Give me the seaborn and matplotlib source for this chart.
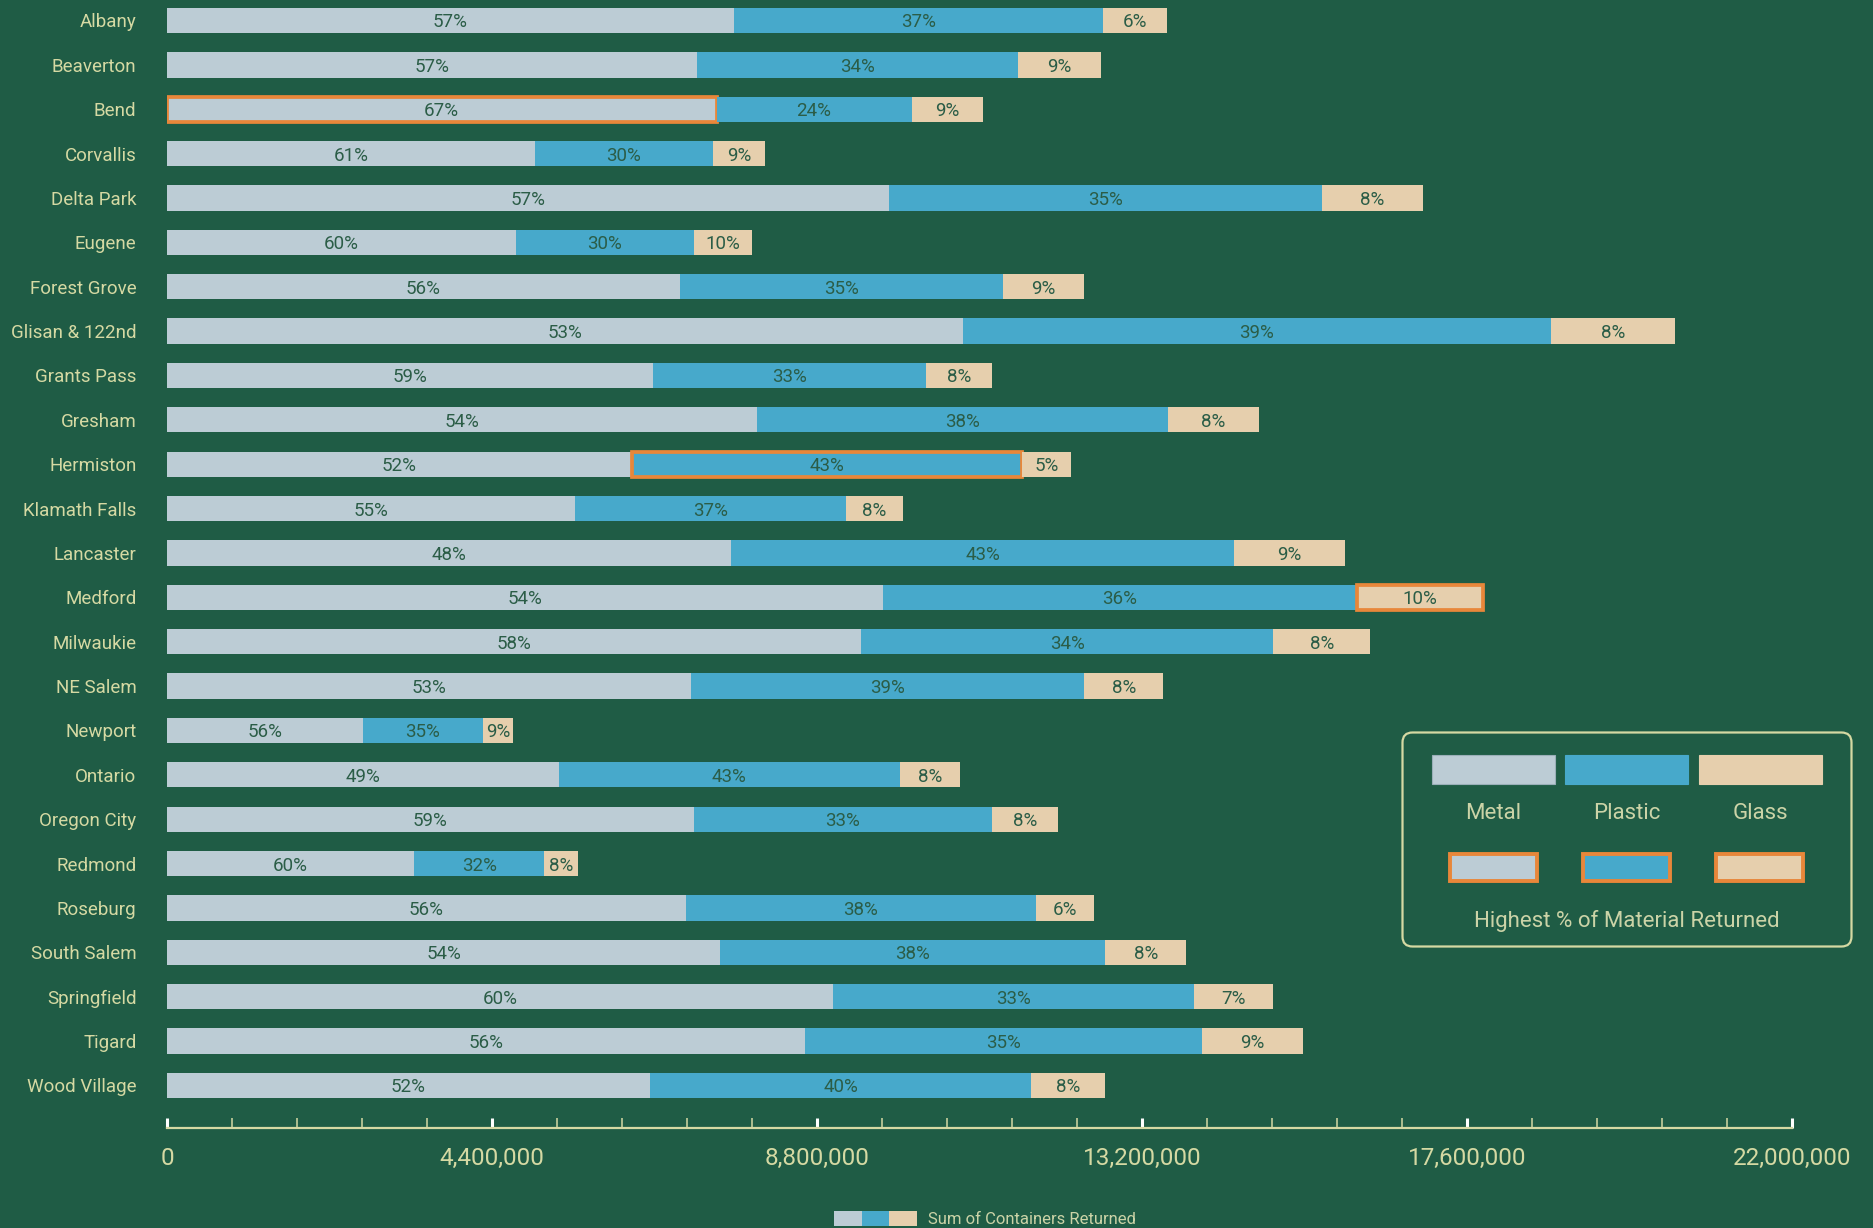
"""
Stacked horizontal bars: share of metal / plastic / glass containers returned per location.
"""

import matplotlib
matplotlib.use('Agg')
import matplotlib.pyplot as plt
from matplotlib.patches import Rectangle, FancyBboxPatch
from matplotlib.ticker import MultipleLocator, FuncFormatter
import pandas as pd
import seaborn as sns

# データ（画像から読み取り、単位: 本）
LOCATIONS = [
    'Albany', 'Beaverton', 'Bend', 'Corvallis', 'Delta Park', 'Eugene',
    'Forest Grove', 'Glisan & 122nd', 'Grants Pass', 'Gresham', 'Hermiston',
    'Klamath Falls', 'Lancaster', 'Medford', 'Milwaukie', 'NE Salem', 'Newport',
    'Ontario', 'Oregon City', 'Redmond', 'Roseburg', 'South Salem',
    'Springfield', 'Tigard', 'Wood Village',
]
METAL = [
    7670000, 7180000, 7440000, 4980000, 9770000, 4720000, 6940000, 10770000,
    6580000, 7990000, 6290000, 5530000, 7640000, 9690000, 9400000, 7100000,
    2650000, 5310000, 7130000, 3350000, 7020000, 7490000, 9010000, 8640000, 6540000,
]
PLASTIC = [
    5000000, 4340000, 2640000, 2410000, 5870000, 2410000, 4380000, 7970000,
    3700000, 5560000, 5290000, 3660000, 6810000, 6420000, 5580000, 5320000,
    1630000, 4610000, 4040000, 1760000, 4740000, 5210000, 4890000, 5370000, 5160000,
]
GLASS = [
    870000, 1130000, 970000, 710000, 1360000, 790000, 1100000, 1680000,
    890000, 1230000, 660000, 780000, 1500000, 1710000, 1310000, 1070000,
    400000, 820000, 890000, 450000, 790000, 1100000, 1070000, 1370000, 1000000,
]
# バー上に表示されている割合ラベル
METAL_PCT = [57, 57, 67, 61, 57, 60, 56, 53, 59, 54, 52, 55, 48, 54, 58, 53, 56, 49, 59, 60, 56, 54, 60, 56, 52]
PLASTIC_PCT = [37, 34, 24, 30, 35, 30, 35, 39, 33, 38, 43, 37, 43, 36, 34, 39, 35, 43, 33, 32, 38, 38, 33, 35, 40]
GLASS_PCT = [6, 9, 9, 9, 8, 10, 9, 8, 8, 8, 5, 8, 9, 10, 8, 8, 9, 8, 8, 8, 6, 8, 7, 9, 8]
MATERIALS = ['Metal', 'Plastic', 'Glass']
HIGHEST = {'Metal': 'Bend', 'Plastic': 'Hermiston', 'Glass': 'Medford'}

BG = '#1F5C45'
COLORS = {'Metal': '#BCCCD5', 'Plastic': '#47A9CB', 'Glass': '#E6CFAD'}
ORANGE = '#E8873A'
PALE = '#D5D9A3'
LEG_TEXT = '#CBD3A7'
DARK_LABEL = '#2B5D47'

W, H = 1873, 1228


def main():
    sns.set_theme(style='white')
    plt.rcParams['font.family'] = ['Roboto', 'DejaVu Sans']

    df = pd.DataFrame({
        'location': LOCATIONS,
        'Metal_n': METAL,
        'Plastic_n': PLASTIC,
        'Glass_n': GLASS,
        'Metal': METAL_PCT,
        'Plastic': PLASTIC_PCT,
        'Glass': GLASS_PCT,
    })
    df['Metal_left'] = 0.0
    df['Plastic_left'] = df['Metal_n']
    df['Glass_left'] = df['Metal_n'] + df['Plastic_n']

    fig = plt.figure(figsize=(W / 100, H / 100), dpi=100, facecolor=BG)
    ax = fig.add_axes([167 / W, 1 - 1128 / H, 1625 / W, 1128 / H])
    ax.set_facecolor(BG)

    for i, m in enumerate(MATERIALS):
        sns.barplot(
            data=df, x=m + '_n', y='location', order=LOCATIONS, orient='h',
            color=COLORS[m], saturation=1, width=0.57, errorbar=None,
            left=df[m + '_left'].values, linewidth=0, ax=ax,
        )
        cont = ax.containers[i]
        hi = LOCATIONS.index(HIGHEST[m])
        cont[hi].set_edgecolor(ORANGE)
        cont[hi].set_linewidth(2.7)
        texts = ax.bar_label(cont, labels=[f'{p}%' for p in df[m]], label_type='center',
                             color=DARK_LABEL, fontsize=13.5)
        for t in texts:
            t.set_va('center_baseline')

    ax.set_xlim(0, 22000000)
    ax.set_ylim(24.96, -0.462)
    ax.set_xlabel('')
    ax.set_ylabel('')

    ax.xaxis.set_major_locator(MultipleLocator(4400000))
    ax.xaxis.set_minor_locator(MultipleLocator(880000))
    ax.xaxis.set_major_formatter(FuncFormatter(lambda x, _: f'{int(round(x)):,}'))
    ax.tick_params(axis='x', which='major', direction='in', length=7, width=2.2,
                   color='white', pad=14, labelsize=17.5, labelcolor=PALE, bottom=True)
    ax.tick_params(axis='x', which='minor', direction='in', length=7, width=1.1,
                   color=PALE, bottom=True)
    ax.tick_params(axis='y', length=0, pad=22, labelsize=13.5, labelcolor=PALE)

    for side in ['top', 'right', 'left']:
        ax.spines[side].set_visible(False)
    ax.spines['bottom'].set_color(PALE)
    ax.spines['bottom'].set_linewidth(1.6)

    # 凡例ボックス（右下）
    lax = fig.add_axes([1401 / W, 1 - 948 / H, 452 / W, 217 / H])
    lax.set_xlim(0, 452)
    lax.set_ylim(217, 0)
    lax.axis('off')
    lax.add_patch(FancyBboxPatch((1.5, 1.5), 449, 214,
                                 boxstyle='round,pad=0,rounding_size=10',
                                 fill=False, edgecolor=PALE, linewidth=1.6, clip_on=False))
    for m, x0 in zip(MATERIALS, [31, 164, 298]):
        edge = '#9AAFB8' if m == 'Metal' else COLORS[m]
        lax.add_patch(Rectangle((x0, 24), 123, 29, facecolor=COLORS[m],
                                edgecolor=edge, linewidth=0.8))
        lax.text(x0 + 61.5, 80, m, ha='center', va='center_baseline', fontsize=16, color=LEG_TEXT)
    for m, x0 in zip(MATERIALS, [49, 182, 315]):
        lax.add_patch(Rectangle((x0, 123), 87, 27, facecolor=COLORS[m],
                                edgecolor=ORANGE, linewidth=2.8))
    lax.text(226, 188, 'Highest % of Material Returned', ha='center', va='center_baseline',
             fontsize=16, color=LEG_TEXT)

    # 下部の小さな凡例
    for m, x0 in zip(MATERIALS, [834, 862, 889]):
        fig.add_artist(Rectangle((x0 / W, 1 - 1226 / H), 28 / W, 15 / H,
                                 facecolor=COLORS[m], edgecolor='none',
                                 transform=fig.transFigure))
    fig.text(928 / W, 1 - 1219 / H, 'Sum of Containers Returned', ha='left', va='center',
             fontsize=12, color=LEG_TEXT)

    fig.savefig('out.png', dpi=100, facecolor=BG)
    plt.close(fig)


if __name__ == '__main__':
    main()
